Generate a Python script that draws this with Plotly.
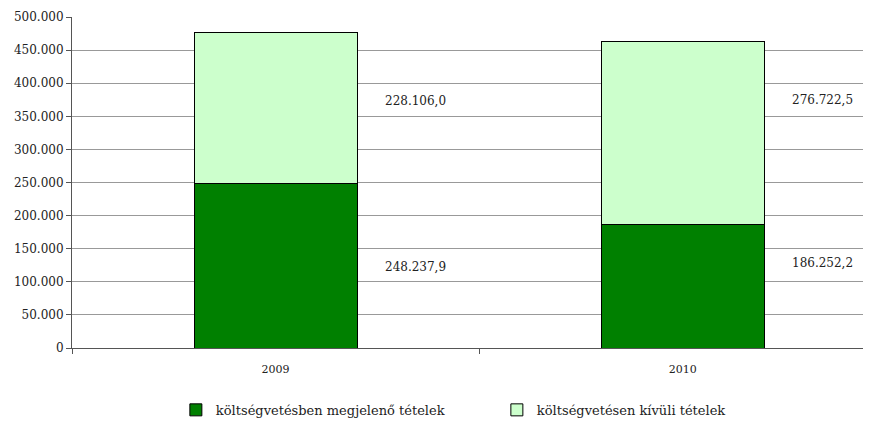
import plotly.graph_objects as go

years = ["2009", "2010"]
in_budget = [248237.9, 186252.2]
off_budget = [228106.0, 276722.5]
in_label = ["248.237,9", "186.252,2"]
off_label = ["228.106,0", "276.722,5"]
series_names = ["költségvetésben megjelenő tételek", "költségvetésen kívüli tételek"]

# label heights (data units) as placed in the original
in_label_y = [122000, 128000]
off_label_y = [373000, 375000]

FONT = "DejaVu Serif"

fig = go.Figure()
fig.add_trace(go.Bar(x=years, y=in_budget, name=series_names[0],
                     marker=dict(color="#008000", line=dict(color="#000000", width=1)),
                     width=0.4))
fig.add_trace(go.Bar(x=years, y=off_budget, name=series_names[1],
                     marker=dict(color="#CCFFCC", line=dict(color="#000000", width=1)),
                     width=0.4))

for i, yr in enumerate(years):
  fig.add_annotation(x=i, y=in_label_y[i], text=in_label[i], showarrow=False,
                     xshift=140, font=dict(family=FONT, size=12, color="#222"))
  fig.add_annotation(x=i, y=off_label_y[i], text=off_label[i], showarrow=False,
                     xshift=140, font=dict(family=FONT, size=12, color="#222"))

fig.update_layout(
  barmode="stack",
  width=863, height=417,
  margin=dict(l=64, r=0, t=9, b=77),
  paper_bgcolor="white", plot_bgcolor="white",
  separators=",.",
  font=dict(family=FONT, size=12, color="#222"),
  legend=dict(orientation="h", x=0.13, y=-0.187, yanchor="middle", xanchor="left",
              traceorder="normal",
              entrywidth=276, entrywidthmode="pixels", itemwidth=30,
              font=dict(family=FONT, size=13, color="#222")),
  showlegend=True,
)
fig.update_xaxes(type="category", range=[-0.5, 1.462], showline=True, linecolor="#555",
                 linewidth=1, ticks="outside", tickson="boundaries", ticklen=5,
                 tickcolor="#555", showgrid=False, tickfont=dict(size=11),
                 ticklabelstandoff=11)
fig.update_yaxes(range=[0, 500000], dtick=50000, tickformat=",d", showline=True,
                 linecolor="#555", linewidth=1, ticks="outside", ticklen=5,
                 tickcolor="#555", gridcolor="#999", gridwidth=1, zeroline=False,
                 tickfont=dict(size=12))

fig.write_html("out.html")
